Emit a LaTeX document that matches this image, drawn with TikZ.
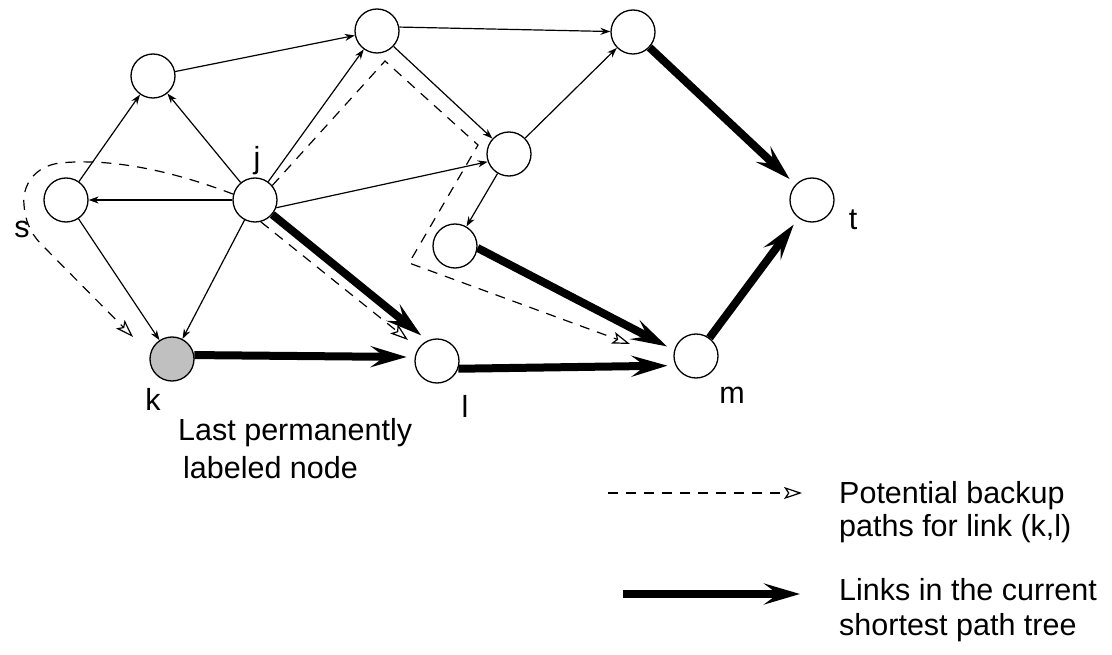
\documentclass[tikz,border=0pt]{standalone}
\usepackage{fontspec}
\setmainfont{Liberation Sans}
\usetikzlibrary{arrows.meta}
\definecolor{kgray}{RGB}{192,192,192}
\begin{document}
\begin{tikzpicture}[x=1pt,y=-1pt,
  vertex/.style={circle,draw,line width=1.3pt,minimum size=44pt,inner sep=0pt},
  link/.style={line width=1.2pt,-{Stealth[length=10pt,width=7pt]}},
  tree/.style={line width=8pt,-{Stealth[length=36pt,width=21pt,inset=14pt]},shorten >=8pt},
  backup/.style={line width=1.2pt,dash pattern=on 10pt off 8pt,-{Stealth[open,length=18pt,width=12pt,inset=4pt]}},
  lbl/.style={font=\fontsize{30.5}{36}\selectfont,anchor=base,inner sep=0pt},
  txt/.style={font=\fontsize{30.5}{36}\selectfont,anchor=base west,inner sep=0pt}
]
\useasboundingbox (0,0) rectangle (1112,655);
% nodes
\node[vertex] (s) at (66,200) {};
\node[vertex] (A) at (153,76) {};
\node[vertex] (j) at (255,200) {};
\node[vertex] (B) at (377,31) {};
\node[vertex] (C) at (509,154) {};
\node[vertex] (D) at (455,246) {};
\node[vertex] (E) at (633,32) {};
\node[vertex] (t) at (812,200) {};
\node[vertex] (l) at (437,361) {};
\node[vertex] (m) at (696,356) {};
\node[vertex,fill=kgray] (k) at (172,359) {};
% labels
\node[lbl] (ls) at (22,238) {s};
\node[lbl] (lj) at (257,169) {j};
\node[lbl] (lk) at (153,410) {k};
\node[lbl] (ll) at (465,417) {l};
\node[lbl] (lm) at (732,403) {m};
\node[lbl] (lt) at (853,230) {t};
\node[txt] (note1) at (178,440) {Last permanently};
\node[txt] (note2) at (183,478) {labeled node};
% thin links
\draw[link] (s) -- (A);
\draw[link] (j) -- (A);
\draw[link] (j) -- (s);
\draw[link] (s) -- (k);
\draw[link] (j) -- (k);
\draw[link] (A) -- (B);
\draw[link] (B.10) -- (E);
\draw[link] (j) -- (B);
\draw[link] (B) -- (C);
\draw[link] (j.-20) -- (C.200);
\draw[link] (C) -- (E);
\draw[link] (C) -- (D);
% shortest path tree
\draw[tree] (E) -- (t);
\draw[tree] (m) -- (t);
\draw[tree] (j.-40) -- (l.115);
\draw[tree] (k.10) -- (l.170);
\draw[tree] (D.-5) -- (m.165);
\draw[tree] (l.-20) -- (m.205);
% backup paths
\coordinate (p1end) at (133,337);
\coordinate (w1) at (385,61);
\coordinate (w2) at (478,145);
\coordinate (w3) at (409,263);
\coordinate (p2end) at (630,344);
\coordinate (p3end) at (408,340);
\draw[backup] (j.165) .. controls (170,170) and (110,158) .. (60,163)
  .. controls (35,166) and (22,185) .. (24,205)
  .. controls (25,220) and (30,232) .. (40,243) -- (p1end);
\draw[backup] (j.40) -- (w1) -- (w2) -- (w3) -- (p2end);
\draw[backup] (j.-75) -- (p3end);
% legend
\coordinate (lg1a) at (608,493);
\coordinate (lg1b) at (802,493);
\coordinate (lg2a) at (623,594);
\coordinate (lg2b) at (800,594);
\draw[backup] (lg1a) -- (lg1b);
\draw[tree,shorten >=0pt] (lg2a) -- (lg2b);
\node[txt] (leg1) at (839,503) {Potential backup};
\node[txt] (leg2) at (839,536) {paths for link (k,l)};
\node[txt] (leg3) at (839,600) {Links in the current};
\node[txt] (leg4) at (839,635) {shortest path tree};
\end{tikzpicture}
\end{document}
